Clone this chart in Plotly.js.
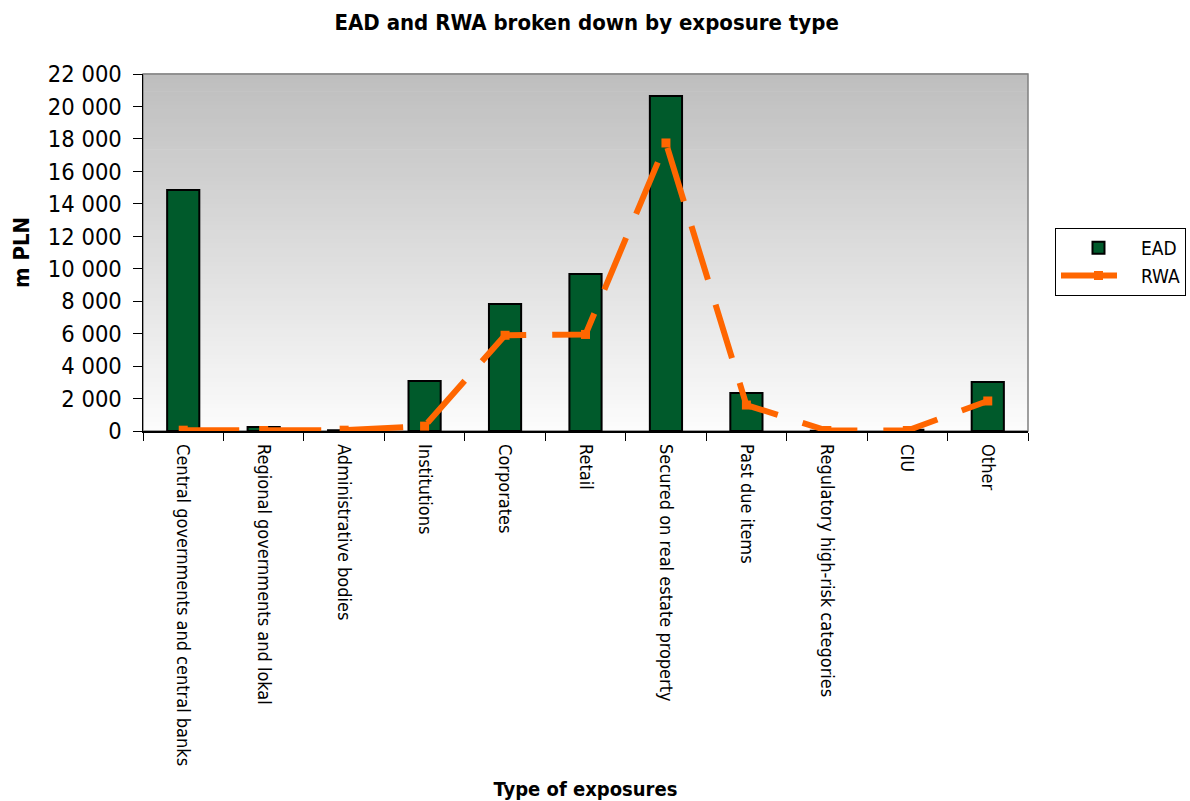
<!DOCTYPE html>
<html>
<head>
<meta charset="utf-8">
<script src="https://cdn.plot.ly/plotly-3.0.1.min.js"></script>
<style>html,body{margin:0;padding:0;background:#fff;}#chart{width:1190px;height:801px;}</style>
</head>
<body>
<div id="chart"></div>
<script>
const categories = [
  "Central governments and central banks",
  "Regional governments and lokal",
  "Administrative bodies",
  "Institutions",
  "Corporates",
  "Retail",
  "Secured on real estate property",
  "Past due items",
  "Regulatory high-risk categories",
  "CIU",
  "Other"
];
const eadValues = [14850, 250, 50, 3080, 7830, 9680, 20650, 2340, 20, 80, 3020];
const rwaValues = [50, 30, 50, 300, 5900, 5950, 17750, 1600, 30, 30, 1850];
const yTicks = [0, 2000, 4000, 6000, 8000, 10000, 12000, 14000, 16000, 18000, 20000, 22000];

const FONT = "'DejaVu Sans Condensed', 'Liberation Sans Narrow', sans-serif";

// vertical gradient background for the plot area
const shapes = [];
const N = 80;
for (let i = 0; i < N; i++) {
  const t = (i + 0.5) / N; // 0 bottom, 1 top
  const v = Math.round(252 - (252 - 190) * t);
  shapes.push({type: 'rect', xref: 'paper', yref: 'paper', x0: 0, x1: 1,
    y0: i / N, y1: (i + 1) / N + 0.002, fillcolor: `rgb(${v},${v},${v})`,
    line: {width: 0}, layer: 'below'});
}
shapes.push({type: 'rect', xref: 'paper', yref: 'paper', x0: 0, x1: 1, y0: 0, y1: 1,
  fillcolor: 'rgba(0,0,0,0)', line: {color: '#808080', width: 1.5}, layer: 'below'});

const traces = [
  {
    type: 'bar', name: 'EAD', x: categories, y: eadValues,
    marker: {color: '#005A2B', line: {color: '#000000', width: 2}},
    width: 0.4
  },
  {
    type: 'scatter', mode: 'lines+markers', name: 'RWA', x: categories, y: rwaValues,
    line: {color: '#FF6600', width: 6, dash: '56px,26px'},
    marker: {symbol: 'square', size: 9, color: '#FF6600'}
  }
];

const layout = {
  width: 1190, height: 801,
  margin: {l: 143, r: 162, t: 74, b: 370, pad: 0, autoexpand: false},
  paper_bgcolor: '#ffffff', plot_bgcolor: 'rgba(0,0,0,0)',
  separators: '. ',
  font: {family: FONT, color: '#000', size: 18},
  title: {text: '<b>EAD and RWA broken down by exposure type</b>', x: 0.493, xanchor: 'center', y: 0.972, yanchor: 'middle',
    font: {family: FONT, size: 22, color: '#000'}},
  showlegend: true,
  legend: {x: 1.0305, xanchor: 'left', y: 0.569, yanchor: 'top', bgcolor: '#fff',
    bordercolor: '#000', borderwidth: 1, font: {family: FONT, size: 19}, itemwidth: 75,
    tracegroupgap: 8},
  xaxis: {
    type: 'category', range: [-0.5, 10.5], autorange: false, tickangle: 90, ticks: 'outside', ticklen: 8, tickcolor: '#000',
    tickson: 'boundaries', showline: true, linecolor: '#000', linewidth: 1.5,
    showgrid: false, tickfont: {family: FONT, size: 18, color: '#000'}, ticklabelstandoff: 8,
    title: {text: '<b>Type of exposures</b>', font: {family: FONT, size: 20}, standoff: 18},
    automargin: false
  },
  yaxis: {
    range: [0, 22000], autorange: false, tickvals: yTicks, tickformat: ',d', ticks: 'outside', ticklen: 9, tickcolor: '#000',
    showline: true, linecolor: '#000', linewidth: 1.5, showgrid: false, zeroline: false,
    tickfont: {family: FONT, size: 23.5, color: '#000'}, ticklabelstandoff: 6,
    title: {text: '<b>m PLN</b>', font: {family: FONT, size: 22}, standoff: 12},
    automargin: false
  },
  shapes: shapes
};

Plotly.newPlot('chart', traces, layout, {displayModeBar: false, staticPlot: true});
</script>
</body>
</html>
